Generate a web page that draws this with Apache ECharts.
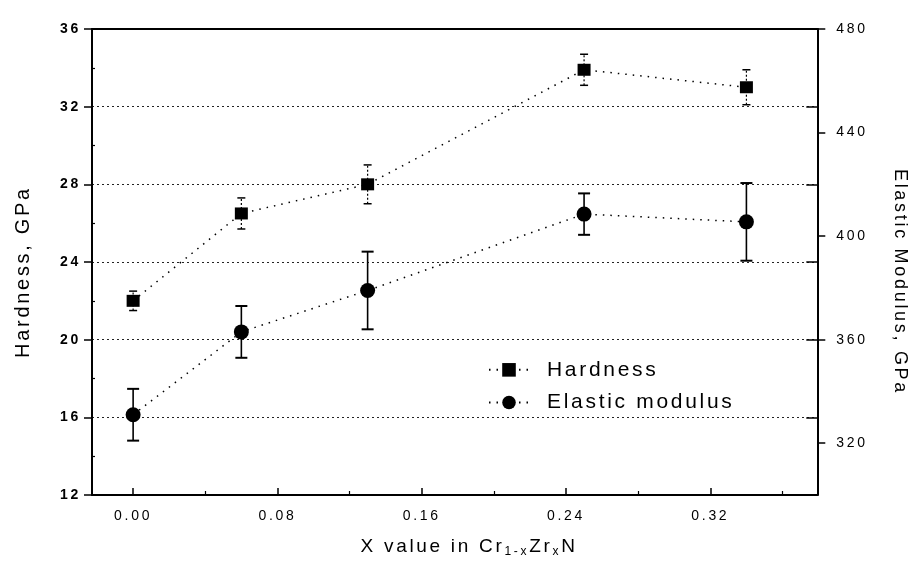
<!DOCTYPE html>
<html>
<head>
<meta charset="utf-8">
<script src="https://cdn.jsdelivr.net/npm/echarts@6/dist/echarts.min.js"></script>
<style>
  html, body { margin: 0; padding: 0; background: #fff; }
  #chart { width: 918px; height: 564px; }
</style>
</head>
<body>
<div id="chart"></div>
<script>
// The reference uses widely spaced lettering; emulate it with canvas letterSpacing
(function () {
  var LS = '2.7px';
  var P = CanvasRenderingContext2D.prototype;
  if ('letterSpacing' in P) {
    var f = P.fillText, s = P.strokeText, m = P.measureText;
    P.fillText = function () { this.letterSpacing = LS; return f.apply(this, arguments); };
    P.strokeText = function () { this.letterSpacing = LS; return s.apply(this, arguments); };
    P.measureText = function () { this.letterSpacing = LS; return m.apply(this, arguments); };
  }
})();

// ---- data ----
const xValues = [0, 0.06, 0.13, 0.25, 0.34];
const hardness = [22.0, 26.5, 28.0, 33.9, 33.0];
const hardnessErr = [0.5, 0.8, 1.0, 0.8, 0.9];
const modulus = [331, 363, 379, 408.5, 405.5];
const modulusErr = [10, 10, 15, 8, 15];

// ---- axis ticks ----
const xTickValues = [0, 0.08, 0.16, 0.24, 0.32];
const xMinorTicks = [0.04, 0.12, 0.20, 0.28, 0.36];
const hardnessTicks = [12, 16, 20, 24, 28, 32, 36];
const hardnessInnerTicks = [16, 20, 24, 28, 32];
const hardnessMinorTicks = [14, 18, 22, 26, 30, 34];
const modulusTicks = [320, 360, 400, 440, 480];
const X_MIN = -0.0228, X_MAX = 0.3793;
const H_MIN = 12, H_MAX = 36;
const M_MIN = 300, M_MAX = 480;

const FONT = "'Liberation Sans', Arial, sans-serif";
const BLACK = '#000';

function errorBars(name, yAxisIndex, vals, errs, opt) {
  return {
    type: 'custom',
    name: name,
    xAxisIndex: 0,
    yAxisIndex: yAxisIndex,
    silent: true,
    z: 1,
    encode: { x: 0, y: [1, 2] },
    data: xValues.map((x, i) => [x, vals[i] - errs[i], vals[i] + errs[i]]),
    renderItem: function (params, api) {
      const x = api.value(0);
      const lo = api.coord([x, api.value(1)]);
      const hi = api.coord([x, api.value(2)]);
      const hw = opt.cap / 2;
      const st = { stroke: BLACK, lineWidth: opt.width, lineDash: opt.dash || null };
      const capSt = { stroke: BLACK, lineWidth: opt.capWidth };
      return {
        type: 'group',
        children: [
          { type: 'line', shape: { x1: lo[0], y1: lo[1], x2: hi[0], y2: hi[1] }, style: st },
          { type: 'line', shape: { x1: lo[0] - hw, y1: lo[1], x2: lo[0] + hw, y2: lo[1] }, style: capSt },
          { type: 'line', shape: { x1: hi[0] - hw, y1: hi[1], x2: hi[0] + hw, y2: hi[1] }, style: capSt }
        ]
      };
    }
  };
}

const chart = echarts.init(document.getElementById('chart'), null, { renderer: 'canvas' });
chart.setOption({
  animation: false,
  backgroundColor: '#fff',
  textStyle: { fontFamily: FONT, color: BLACK },
  grid: { left: 92, right: 95, top: 29, bottom: 64, containLabel: false },
  legend: {
    orient: 'vertical',
    left: 483,
    top: 353,
    itemWidth: 40,
    itemHeight: 17,
    itemGap: 9,
    data: ['Hardness', 'Elastic modulus'],
    textStyle: { fontSize: 21, fontFamily: FONT, color: BLACK, padding: [0, 0, 0, 13] }
  },
  xAxis: [
    {
      type: 'value', min: X_MIN, max: X_MAX, position: 'bottom',
      axisLine: { show: true, onZero: false, lineStyle: { color: BLACK, width: 2 } },
      axisTick: { show: true, inside: true, length: 7, customValues: xTickValues, lineStyle: { color: BLACK, width: 1.5 } },
      axisLabel: { customValues: xTickValues, formatter: v => v.toFixed(2), margin: 13, fontSize: 14, color: BLACK, fontFamily: FONT },
      splitLine: { show: false },
      name: '{n|X value in Cr}{s|1-x}{n|Zr}{s|x}{n|N}',
      nameLocation: 'middle',
      nameGap: 40,
      nameTextStyle: {
        padding: [0, 0, 0, 29],
        rich: {
          n: { fontSize: 19, lineHeight: 24, fontFamily: FONT, color: BLACK },
          s: { fontSize: 12, lineHeight: 12, verticalAlign: 'bottom', fontFamily: FONT, color: BLACK }
        }
      }
    },
    {
      type: 'value', min: X_MIN, max: X_MAX, position: 'bottom',
      axisLine: { show: false, onZero: false },
      axisTick: { show: true, inside: true, length: 4, customValues: xMinorTicks, lineStyle: { color: BLACK, width: 1.2 } },
      axisLabel: { show: false },
      splitLine: { show: false }
    },
    {
      type: 'value', min: X_MIN, max: X_MAX, position: 'top',
      axisLine: { show: true, onZero: false, lineStyle: { color: BLACK, width: 2 } },
      axisTick: { show: false },
      axisLabel: { show: false },
      splitLine: { show: false }
    }
  ],
  yAxis: [
    {
      type: 'value', min: H_MIN, max: H_MAX, interval: 4, position: 'left',
      axisLine: { show: true, onZero: false, lineStyle: { color: BLACK, width: 2 } },
      axisTick: { show: true, length: 8, customValues: hardnessTicks, lineStyle: { color: BLACK, width: 1.5 } },
      axisLabel: { customValues: hardnessTicks, margin: 11, fontSize: 14, fontWeight: 'bold', color: BLACK, fontFamily: FONT },
      splitLine: { show: true, lineStyle: { color: '#222', width: 1, type: [2, 3] } },
      name: 'Hardness, GPa',
      nameLocation: 'middle',
      nameGap: 57,
      nameTextStyle: { fontSize: 20, color: BLACK, fontFamily: FONT, padding: [0, 20, 0, 0] }
    },
    {
      type: 'value', min: M_MIN, max: M_MAX, position: 'right',
      axisLine: { show: true, onZero: false, lineStyle: { color: BLACK, width: 2 } },
      axisTick: { show: true, length: 8, customValues: modulusTicks, lineStyle: { color: BLACK, width: 1.5 } },
      axisLabel: { customValues: modulusTicks, margin: 19, fontSize: 14, color: BLACK, fontFamily: FONT },
      splitLine: { show: false },
      name: 'Elastic Modulus, GPa',
      nameLocation: 'middle',
      nameRotate: -90,
      nameGap: 72,
      nameTextStyle: { fontSize: 18, color: BLACK, fontFamily: FONT, padding: [0, 0, 0, 40] }
    },
    {
      type: 'value', min: H_MIN, max: H_MAX, position: 'right',
      axisLine: { show: false, onZero: false },
      axisTick: { show: true, inside: true, length: 11, customValues: hardnessInnerTicks, lineStyle: { color: BLACK, width: 1.5 } },
      axisLabel: { show: false },
      splitLine: { show: false }
    },
    {
      type: 'value', min: H_MIN, max: H_MAX, position: 'left',
      axisLine: { show: false, onZero: false },
      axisTick: { show: true, inside: true, length: 3, customValues: hardnessMinorTicks, lineStyle: { color: BLACK, width: 1.2 } },
      axisLabel: { show: false },
      splitLine: { show: false }
    }
  ],
  series: [
    errorBars('Hardness error', 0, hardness, hardnessErr, { width: 1.2, dash: [2, 2], cap: 8, capWidth: 1.5 }),
    errorBars('Modulus error', 1, modulus, modulusErr, { width: 1.6, cap: 12, capWidth: 2 }),
    {
      type: 'line', name: 'Hardness', xAxisIndex: 0, yAxisIndex: 0, z: 3,
      data: xValues.map((x, i) => [x, hardness[i]]),
      symbol: 'rect', symbolSize: [13, 12], showSymbol: true,
      itemStyle: { color: BLACK },
      lineStyle: { color: BLACK, width: 1.5, type: [1.5, 6] }
    },
    {
      type: 'line', name: 'Elastic modulus', xAxisIndex: 0, yAxisIndex: 1, z: 3,
      data: xValues.map((x, i) => [x, modulus[i]]),
      symbol: 'circle', symbolSize: 15, showSymbol: true,
      itemStyle: { color: BLACK },
      lineStyle: { color: BLACK, width: 1.5, type: [1.5, 6] }
    }
  ]
});
</script>
</body>
</html>
